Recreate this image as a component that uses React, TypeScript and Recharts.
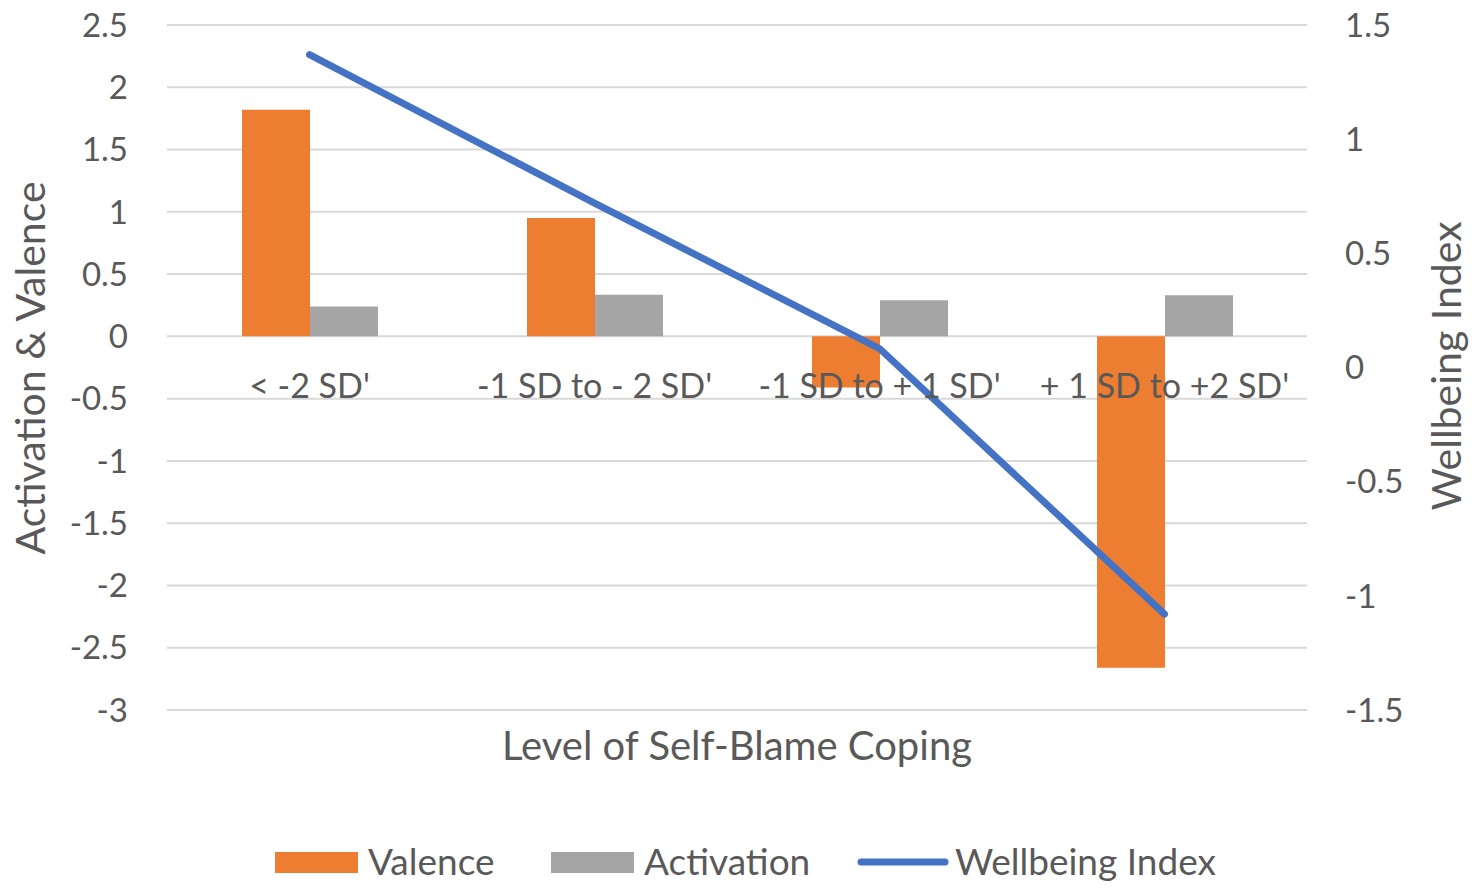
import React from "react";
import {
  ComposedChart,
  Bar,
  Line,
  XAxis,
  YAxis,
  CartesianGrid,
} from "recharts";

const categories = ["< -2 SD'", "-1 SD to - 2 SD'", "-1 SD to + 1 SD'", "+ 1 SD to +2 SD'"];
const valence = [1.82, 0.95, -0.41, -2.66];
const activation = [0.24, 0.335, 0.29, 0.33];
const wellbeing = [1.37, 0.72, 0.083, -1.08];

const leftTicks = [2.5, 2, 1.5, 1, 0.5, 0, -0.5, -1, -1.5, -2, -2.5, -3];
const rightTicks = [1.5, 1, 0.5, 0, -0.5, -1, -1.5];
const leftDomain: [number, number] = [-3, 2.5];
const rightDomain: [number, number] = [-1.5, 1.5];

const W = 1477;
const H = 894;
const TOP = 25;
const PLOT_H = 685;
const LEFT_W = 167;
const RIGHT_W = 170;

const FONT = "Lato, 'Open Sans', sans-serif";
const TEXT = "#595959";
const ORANGE = "#ED7D31";
const GRAY = "#A5A5A5";
const BLUE = "#4472C4";
const GRID = "#D9D9D9";

const data = categories.map((name, i) => ({
  name,
  valence: valence[i],
  activation: activation[i],
  wellbeing: wellbeing[i],
}));

// category labels sit just under the zero line, like Excel does
const zeroY = TOP + (PLOT_H * leftDomain[1]) / (leftDomain[1] - leftDomain[0]);

const CategoryTick = (props: any) => {
  const { x, payload } = props;
  return (
    <text
      x={x}
      y={zeroY + 62}
      textAnchor="middle"
      fill={TEXT}
      fontSize={34}
      fontFamily={FONT}
    >
      {payload.value}
    </text>
  );
};

const Overlay = () => (
  <svg
    width={W}
    height={H}
    style={{ position: "absolute", left: 0, top: 0, pointerEvents: "none" }}
    fontFamily={FONT}
  >
    <text
      x={0}
      y={0}
      transform={`translate(45, 368) rotate(-90)`}
      textAnchor="middle"
      fill={TEXT}
      fontSize={41}
    >
      Activation &amp; Valence
    </text>
    <text
      x={0}
      y={0}
      transform={`translate(1461, 366) rotate(-90)`}
      textAnchor="middle"
      fill={TEXT}
      fontSize={41}
    >
      Wellbeing Index
    </text>
    <text x={737} y={760} textAnchor="middle" fill={TEXT} fontSize={40}>
      Level of Self-Blame Coping
    </text>
    <g fontSize={37} fill={TEXT}>
      <rect x={275} y={852} width={83} height={21} fill={ORANGE} />
      <text x={368} y={875}>Valence</text>
      <rect x={551} y={852} width={83} height={21} fill={GRAY} />
      <text x={644} y={875}>Activation</text>
      <line x1={861} y1={862} x2={945} y2={862} stroke={BLUE} strokeWidth={7} strokeLinecap="round" />
      <text x={955} y={875}>Wellbeing Index</text>
    </g>
  </svg>
);

export default function App() {
  return (
    <div style={{ position: "absolute", left: 0, top: 0, width: W, height: H, background: "#fff" }}>
      <ComposedChart
        width={W}
        height={H}
        data={data}
        margin={{ top: TOP, right: 0, bottom: 0, left: 0 }}
        barGap={0}
      >
        <CartesianGrid yAxisId="left" vertical={false} stroke={GRID} strokeWidth={2} />
        <XAxis
          dataKey="name"
          height={H - TOP - PLOT_H}
          axisLine={false}
          tickLine={false}
          interval={0}
          tick={<CategoryTick />}
        />
        <YAxis
          yAxisId="left"
          orientation="left"
          width={LEFT_W}
          domain={leftDomain}
          ticks={leftTicks}
          interval={0}
          axisLine={false}
          tickLine={false}
          tickSize={0}
          tickMargin={39}
          tick={{ fill: TEXT, fontSize: 33, fontFamily: FONT }}
        />
        <YAxis
          yAxisId="right"
          orientation="right"
          width={RIGHT_W}
          domain={rightDomain}
          ticks={rightTicks}
          interval={0}
          axisLine={false}
          tickLine={false}
          tickSize={0}
          tickMargin={38}
          tick={{ fill: TEXT, fontSize: 33, fontFamily: FONT, textAnchor: "start" }}
        />
        <Bar yAxisId="left" dataKey="valence" fill={ORANGE} barSize={68} isAnimationActive={false} />
        <Bar yAxisId="left" dataKey="activation" fill={GRAY} barSize={68} isAnimationActive={false} />
        <Line
          yAxisId="right"
          type="linear"
          dataKey="wellbeing"
          stroke={BLUE}
          strokeWidth={7}
          strokeLinecap="round"
          dot={false}
          activeDot={false}
          isAnimationActive={false}
        />
      </ComposedChart>
      <Overlay />
    </div>
  );
}
